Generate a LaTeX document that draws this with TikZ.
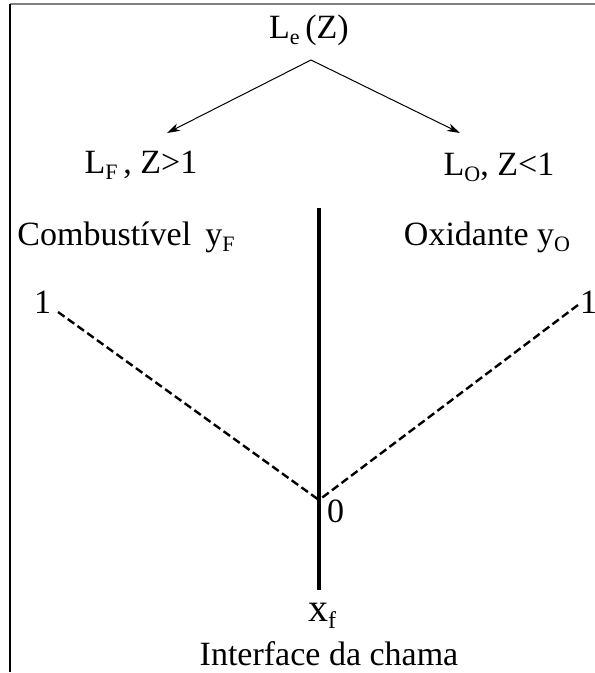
\documentclass[tikz,border=0pt]{standalone}
\usepackage{fontspec}
\setmainfont{Liberation Serif}
\usetikzlibrary{arrows.meta}
\newcommand{\mysub}[1]{\raisebox{-6pt}{\fontsize{22}{22}\selectfont #1}}
\tikzset{
  txt/.style={inner sep=0pt, font=\fontsize{34}{40}\selectfont},
  num/.style={inner sep=0pt, font=\fontsize{34}{40}\selectfont},
  bigtxt/.style={inner sep=0pt, font=\fontsize{40}{46}\selectfont},
  branch/.style={line width=1pt, -{Stealth[length=13pt,width=8pt,inset=4pt]}},
  profile/.style={line width=2.4pt, dash pattern=on 8pt off 4pt},
  front/.style={line width=4pt},
  frameline/.style={line width=1.5pt}
}
\begin{document}
\begin{tikzpicture}[x=1pt,y=-1pt]
\useasboundingbox (0,0) rectangle (595,673);
\draw[frameline, gray] (10,4) -- (595,4);
\draw[frameline] (10,4) -- (10,672);
\node[txt, anchor=base] (le) at (309,38) {L\mysub{e}\,(Z)};
\coordinate (apex) at (311,60);
\coordinate (tipF) at (167,133);
\coordinate (tipO) at (460,133);
\draw[branch] (apex) -- (tipF);
\draw[branch] (apex) -- (tipO);
\node[txt, anchor=base] (lf) at (141,173) {L\mysub{F}\,, Z>1};
\node[txt, anchor=base] (lo) at (499,175) {L\mysub{O}, Z<1};
\node[txt, anchor=base] (comb) at (126,245) {Combustível \,y\mysub{F}};
\node[txt, anchor=base] (oxi) at (487,245) {Oxidante y\mysub{O}};
\coordinate (ftop) at (319,208);
\coordinate (fbot) at (319,590);
\draw[front] (ftop) -- (fbot);
\node[num, anchor=base west] (oneL) at (34,313) {1};
\node[num, anchor=base west] (oneR) at (580,313) {1};
\coordinate (startL) at (58,312);
\coordinate (startR) at (578,305);
\coordinate (meet) at (319,500);
\draw[profile] (startL) -- (meet);
\draw[profile] (startR) -- (meet);
\node[num, anchor=base west] (zero) at (327,522) {0};
\node[bigtxt, anchor=base] (xf) at (322,621) {x\raisebox{-7pt}{\fontsize{24}{24}\selectfont f}};
\node[txt, anchor=base] (iface) at (329,665) {Interface da chama};
\end{tikzpicture}
\end{document}
